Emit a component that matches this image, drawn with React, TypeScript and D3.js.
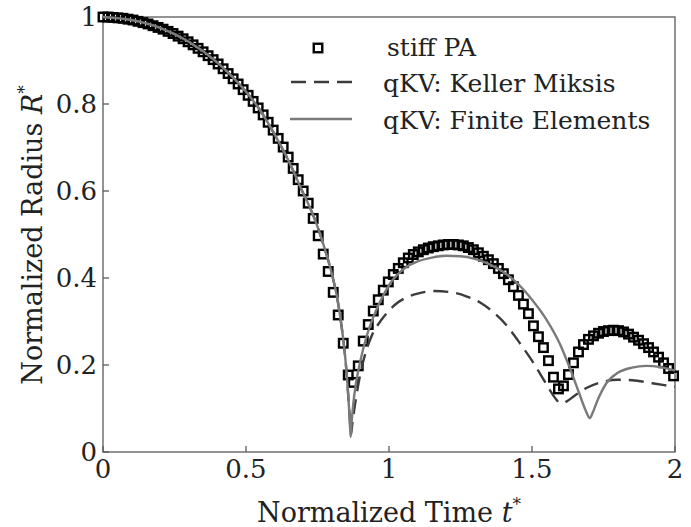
import React from "react";
import * as d3 from "d3";

// ---- data ----
const stiffT = [
  0, 0.0175, 0.035, 0.0525, 0.07, 0.0875, 0.105, 0.1225, 0.14, 0.1575,
  0.175, 0.1925, 0.21, 0.2275, 0.245, 0.2625, 0.28, 0.2975, 0.315, 0.3325,
  0.35, 0.3675, 0.385, 0.4025, 0.42, 0.4375, 0.455, 0.4725, 0.49, 0.5075,
  0.525, 0.5425, 0.56, 0.5775, 0.595, 0.6125, 0.63, 0.6475, 0.665, 0.6825,
  0.7, 0.7175, 0.735, 0.7525, 0.77, 0.7875, 0.805, 0.8225, 0.84, 0.8575,
  0.875, 0.8925, 0.91, 0.9275, 0.945, 0.9625, 0.98, 0.9975, 1.015, 1.0325,
  1.05, 1.0675, 1.085, 1.1025, 1.12, 1.1375, 1.155, 1.1725, 1.19, 1.2075,
  1.225, 1.2425, 1.26, 1.2775, 1.295, 1.3125, 1.33, 1.3475, 1.365, 1.3825,
  1.4, 1.4175, 1.435, 1.4525, 1.47, 1.4875, 1.505, 1.5225, 1.54, 1.5575,
  1.575, 1.5925, 1.61, 1.6275, 1.645, 1.6625, 1.68, 1.6975, 1.715, 1.7325,
  1.75, 1.7675, 1.785, 1.8025, 1.82, 1.8375, 1.855, 1.8725, 1.89, 1.9075,
  1.925, 1.9425, 1.96, 1.9775, 1.995,
];
const stiffR = [
  1.0, 1.0, 0.999, 0.998, 0.997, 0.995, 0.993, 0.99, 0.987, 0.984,
  0.98, 0.976, 0.972, 0.967, 0.962, 0.956, 0.95, 0.943, 0.936, 0.928,
  0.92, 0.911, 0.902, 0.892, 0.881, 0.87, 0.858, 0.846, 0.833, 0.82,
  0.806, 0.791, 0.775, 0.758, 0.74, 0.721, 0.701, 0.678, 0.652, 0.626,
  0.6, 0.572, 0.537, 0.497, 0.455, 0.415, 0.367, 0.315, 0.25, 0.177,
  0.16, 0.198, 0.255, 0.293, 0.324, 0.35, 0.372, 0.391, 0.408, 0.422,
  0.435, 0.446, 0.454, 0.46, 0.465, 0.469, 0.472, 0.474, 0.476, 0.477,
  0.477, 0.476, 0.474, 0.47, 0.465, 0.458, 0.45, 0.442, 0.433, 0.422,
  0.41, 0.396, 0.38, 0.36, 0.34, 0.318, 0.29, 0.265, 0.24, 0.21,
  0.172, 0.145, 0.152, 0.178, 0.205, 0.23, 0.247, 0.259, 0.267, 0.273,
  0.277, 0.279, 0.28, 0.279, 0.276, 0.271, 0.264, 0.257, 0.249, 0.24,
  0.23, 0.218, 0.205, 0.192, 0.175,
];

const feT = [
  0, 0.1, 0.2, 0.3, 0.4, 0.5, 0.55, 0.6, 0.65, 0.7, 0.725, 0.75, 0.775, 0.8,
  0.82, 0.835, 0.845, 0.852, 0.858, 0.863, 0.866, 0.869, 0.875, 0.885, 0.9,
  0.92, 0.95, 0.98, 1.01, 1.05, 1.1, 1.15, 1.2, 1.25, 1.3, 1.35, 1.4, 1.45,
  1.5, 1.55, 1.6, 1.633, 1.665, 1.688, 1.702, 1.712, 1.73, 1.76, 1.8, 1.85,
  1.9, 1.95, 2.0,
];
const feR = [
  1.0, 0.993, 0.975, 0.943, 0.895, 0.828, 0.785, 0.73, 0.668, 0.595, 0.56,
  0.518, 0.468, 0.41, 0.35, 0.285, 0.23, 0.18, 0.125, 0.07, 0.035, 0.065,
  0.11, 0.16, 0.21, 0.262, 0.318, 0.36, 0.393, 0.42, 0.438, 0.447, 0.451,
  0.45, 0.444, 0.432, 0.414, 0.387, 0.35, 0.305, 0.245, 0.192, 0.135, 0.095,
  0.078, 0.09, 0.12, 0.158, 0.182, 0.194, 0.198, 0.195, 0.187,
];

const kmT = [
  0, 0.1, 0.2, 0.3, 0.4, 0.5, 0.55, 0.6, 0.65, 0.7, 0.725, 0.75, 0.775, 0.8,
  0.82, 0.835, 0.845, 0.852, 0.858, 0.863, 0.867, 0.871, 0.878, 0.89, 0.905,
  0.92, 0.94, 0.975, 1.02, 1.06, 1.1, 1.16, 1.21, 1.27, 1.32, 1.36, 1.41,
  1.46, 1.5, 1.53, 1.56, 1.58, 1.6, 1.62, 1.65, 1.69, 1.74, 1.8, 1.85, 1.92,
  2.0,
];
const kmR = [
  1.0, 0.993, 0.975, 0.943, 0.895, 0.828, 0.785, 0.73, 0.668, 0.595, 0.56,
  0.518, 0.468, 0.41, 0.35, 0.285, 0.23, 0.18, 0.125, 0.075, 0.04, 0.06,
  0.095, 0.145, 0.195, 0.232, 0.268, 0.305, 0.338, 0.355, 0.364, 0.37, 0.368,
  0.358, 0.343, 0.324, 0.292, 0.248, 0.21, 0.178, 0.145, 0.125, 0.112, 0.116,
  0.13, 0.147, 0.16, 0.166, 0.165, 0.158, 0.15,
];

const xTicks = [0, 0.5, 1, 1.5, 2];
const xTickLabels = ["0", "0.5", "1", "1.5", "2"];
const yTicks = [0, 0.2, 0.4, 0.6, 0.8, 1];
const yTickLabels = ["0", "0.2", "0.4", "0.6", "0.8", "1"];
const legendLabels = ["stiff PA", "qKV: Keller Miksis", "qKV: Finite Elements"];

// ---- layout ----
const W = 691;
const H = 527;
const L = 103;
const R = 675;
const T = 17;
const B = 452;
const FONT = "DejaVu Serif";
const AXIS = "#5a5a5a";

export default function App() {
  const x = d3.scaleLinear().domain([0, 2]).range([L, R]);
  const y = d3.scaleLinear().domain([0, 1]).range([B, T]);

  const line = d3
    .line<[number, number]>()
    .x((d) => x(d[0]))
    .y((d) => y(d[1]))
    .curve(d3.curveMonotoneX);

  const fePts = feT.map((t, i) => [t, feR[i]] as [number, number]);
  const kmPts = kmT.map((t, i) => [t, kmR[i]] as [number, number]);
  const sq = 8.5;
  const txt = { fontFamily: FONT, fontWeight: 300 as const };

  return (
    <svg
      width={W}
      height={H}
      style={{ position: "absolute", left: 0, top: 0, background: "#fff" }}
    >
      {/* frame */}
      <rect x={L} y={T} width={R - L} height={B - T} fill="none" stroke={AXIS} strokeWidth={1.3} />
      {/* ticks */}
      {xTicks.map((v, i) => (
        <g key={"xt" + i}>
          <line x1={x(v)} x2={x(v)} y1={B} y2={B - 6} stroke={AXIS} strokeWidth={1.3} />
          <text x={x(v)} y={478} fontSize={26} textAnchor="middle" fill="#222" style={txt}>
            {xTickLabels[i]}
          </text>
        </g>
      ))}
      {yTicks.map((v, i) => (
        <g key={"yt" + i}>
          <line x1={L} x2={L + 6} y1={y(v)} y2={y(v)} stroke={AXIS} strokeWidth={1.3} />
          <text x={97} y={y(v) + 9} fontSize={26} textAnchor="end" fill="#222" style={txt}>
            {yTickLabels[i]}
          </text>
        </g>
      ))}

      {/* stiff PA squares */}
      {stiffT.map((t, i) => (
        <rect
          key={"s" + i}
          x={x(t) - sq / 2}
          y={y(stiffR[i]) - sq / 2}
          width={sq}
          height={sq}
          fill="none"
          stroke="#000"
          strokeWidth={2.4}
        />
      ))}
      {/* KM dashed */}
      <path d={line(kmPts) || ""} fill="none" stroke="#3c3c3c" strokeWidth={2.4} strokeDasharray="15,8" />
      {/* FE solid */}
      <path d={line(fePts) || ""} fill="none" stroke="#7a7a7a" strokeWidth={2.4} />

      {/* legend */}
      <rect x={318 - sq / 2} y={48 - sq / 2} width={sq} height={sq} fill="none" stroke="#000" strokeWidth={2.4} />
      <line x1={291} x2={352} y1={82} y2={82} stroke="#3c3c3c" strokeWidth={2.4} strokeDasharray="15,8" />
      <line x1={290} x2={352} y1={119} y2={119} stroke="#7a7a7a" strokeWidth={2.4} />
      <text x={387} y={56} fontSize={25} fill="#222" style={txt}>{legendLabels[0]}</text>
      <text x={383} y={92} fontSize={25} fill="#222" style={txt}>{legendLabels[1]}</text>
      <text x={383} y={129} fontSize={25} fill="#222" style={txt}>{legendLabels[2]}</text>

      {/* axis titles */}
      <text x={389} y={522} fontSize={27} textAnchor="middle" fill="#222" style={txt}>
        Normalized Time <tspan fontStyle="italic">t</tspan>
        <tspan fontSize={17} dy={-12}>*</tspan>
      </text>
      <text
        transform={`translate(42,235) rotate(-90)`}
        fontSize={27}
        textAnchor="middle"
        fill="#222"
        style={txt}
      >
        Normalized Radius <tspan fontStyle="italic">R</tspan>
        <tspan fontSize={17} dy={-12}>*</tspan>
      </text>
    </svg>
  );
}
